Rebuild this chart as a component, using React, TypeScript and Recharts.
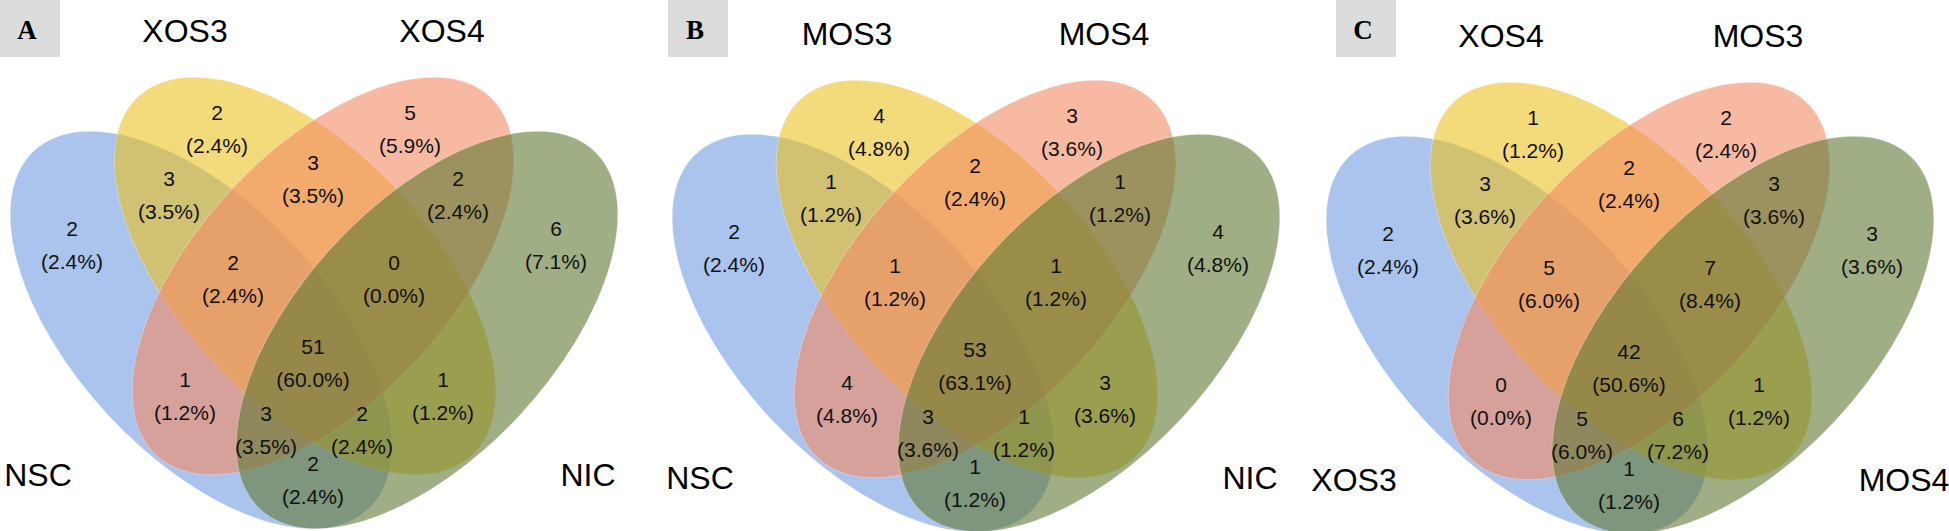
import React from "react";
import { ScatterChart, Scatter, XAxis, YAxis } from "recharts";

// set names, order: blue, yellow, red, green ellipse
const setsA = ["NSC", "XOS3", "XOS4", "NIC"];
const setsB = ["NSC", "MOS3", "MOS4", "NIC"];
const setsC = ["XOS3", "XOS4", "MOS3", "MOS4"];
const panelLetters = ["A", "B", "C"];

// region keys (0 blue, 1 yellow, 2 red, 3 green)
const regionKeys = ["0", "1", "2", "3", "01", "12", "23", "012", "123", "0123", "02", "13", "023", "013", "03"];

// counts per region, same order as regionKeys
const countsA = [2, 2, 5, 6, 3, 3, 2, 2, 0, 51, 1, 1, 3, 2, 2];
const countsB = [2, 4, 3, 4, 1, 2, 1, 1, 1, 53, 4, 3, 3, 1, 1];
const countsC = [2, 1, 2, 3, 3, 2, 3, 5, 7, 42, 0, 1, 5, 6, 1];

// ---- layout (panel-local pixels) ----
const PAD = 12; // room left of the panel origin so edge labels are not clipped
const PANEL_W = 650 + PAD * 2;
const PANEL_H = 531;
const panelLayout = [
  { left: 0, dy: 0, box: 0 },
  { left: 662, dy: 3, box: 6 },
  { left: 1316, dy: 5, box: 20 },
];

const ellipseLayout = [
  { x: 201, y: 330, angle: 47, color: "#739de3" },
  { x: 305, y: 276, angle: 47, color: "#ebc121" },
  { x: 323, y: 276, angle: -47, color: "#f38a64" },
  { x: 427, y: 330, angle: -47, color: "#5f7832" },
];
const RX = 245;
const RY = 126;

const regionPos: Record<string, [number, number]> = {
  "0": [72, 228],
  "1": [217, 112],
  "2": [410, 112],
  "3": [556, 228],
  "01": [169, 178],
  "12": [313, 162],
  "23": [458, 178],
  "012": [233, 262],
  "123": [394, 262],
  "0123": [313, 346],
  "02": [185, 379],
  "13": [443, 379],
  "023": [266, 413],
  "013": [362, 413],
  "03": [313, 463],
};

const nameLayout = [
  { x: 38, y: 486 },
  { x: 185, y: 42 },
  { x: 442, y: 42 },
  { x: 588, y: 486 },
];

const FONT = "'Liberation Sans', Arial, Helvetica, sans-serif";

function EllipseShape(props: any) {
  const { cx, cy, payload } = props;
  return (
    <ellipse
      cx={cx}
      cy={cy}
      rx={RX}
      ry={RY}
      transform={`rotate(${payload.angle} ${cx} ${cy})`}
      fill={payload.color}
      fillOpacity={0.6}
      stroke="#ffffff"
      strokeOpacity={0.3}
      strokeWidth={1}
    />
  );
}

function RegionLabel(props: any) {
  const { cx, cy, payload } = props;
  return (
    <g fontFamily={FONT} fontSize={21} fill="#111" textAnchor="middle">
      <text x={cx} y={cy + 7.5}>{payload.count}</text>
      <text x={cx} y={cy + 40.5}>({payload.pct}%)</text>
    </g>
  );
}

function SetName(props: any) {
  const { cx, cy, payload } = props;
  return (
    <text x={cx} y={cy} fontFamily={FONT} fontSize={32} fill="#000" textAnchor="middle">
      {payload.name}
    </text>
  );
}

function LetterBox(props: any) {
  const { cx, cy, payload } = props;
  return (
    <g>
      <rect x={cx} y={cy} width={60} height={57} fill="#dcdcdc" />
      <text
        x={cx + 27}
        y={cy + 39}
        fontFamily="'Liberation Serif', 'Times New Roman', serif"
        fontWeight="bold"
        fontSize={27}
        textAnchor="middle"
        fill="#000"
      >
        {payload.letter}
      </text>
    </g>
  );
}

function VennPanel({ idx, sets, counts }: { idx: number; sets: string[]; counts: number[] }) {
  const { left, dy, box } = panelLayout[idx];
  const total = counts.reduce((s, v) => s + v, 0);
  const ellipses = ellipseLayout.map((e, i) => ({ ...e, y: e.y + dy, name: sets[i] }));
  const regions = regionKeys.map((k, i) => ({
    x: regionPos[k][0],
    y: regionPos[k][1] + dy,
    count: counts[i],
    pct: ((counts[i] / total) * 100).toFixed(1),
  }));
  const names = sets.map((n, i) => ({ x: nameLayout[i].x, y: nameLayout[i].y + dy, name: n }));
  const letter = [{ x: box, y: 0, letter: panelLetters[idx] }];

  return (
    <div style={{ position: "absolute", left: left - PAD, top: 0 }}>
      <ScatterChart width={PANEL_W} height={PANEL_H} margin={{ top: 0, right: 0, bottom: 0, left: 0 }}>
        <XAxis type="number" dataKey="x" domain={[-PAD, 650 + PAD]} hide allowDataOverflow />
        <YAxis type="number" dataKey="y" domain={[0, PANEL_H]} reversed hide allowDataOverflow />
        <Scatter data={ellipses} shape={EllipseShape} isAnimationActive={false} />
        <Scatter data={letter} shape={LetterBox} isAnimationActive={false} />
        <Scatter data={names} shape={SetName} isAnimationActive={false} />
        <Scatter data={regions} shape={RegionLabel} isAnimationActive={false} />
      </ScatterChart>
    </div>
  );
}

export default function App() {
  return (
    <div
      style={{
        position: "absolute",
        left: 0,
        top: 0,
        width: 1949,
        height: 531,
        overflow: "hidden",
        background: "#fff",
      }}
    >
      <VennPanel idx={0} sets={setsA} counts={countsA} />
      <VennPanel idx={1} sets={setsB} counts={countsB} />
      <VennPanel idx={2} sets={setsC} counts={countsC} />
    </div>
  );
}
